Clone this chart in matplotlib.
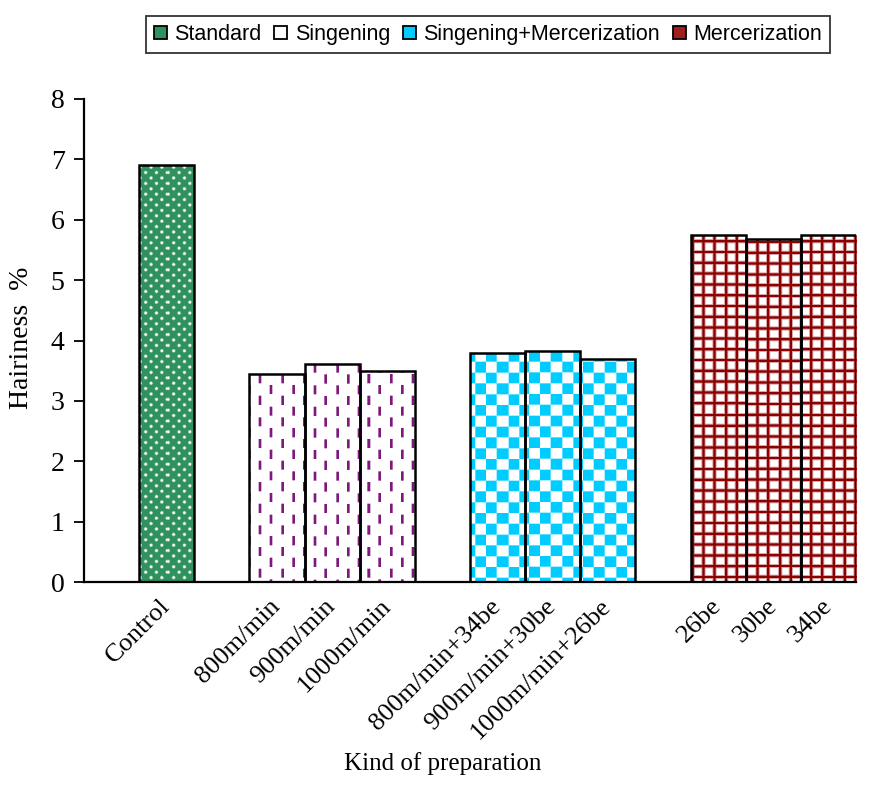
import numpy as np
import matplotlib
matplotlib.use("Agg")
import matplotlib.pyplot as plt
from matplotlib.patches import Patch

# ---------------- data ----------------
categories = ["Control", "800m/min", "900m/min", "1000m/min",
              "800m/min+34be", "900m/min+30be", "1000m/min+26be",
              "26be", "30be", "34be"]
groups = ["Standard", "Singening", "Singening", "Singening",
          "Singening+Mercerization", "Singening+Mercerization", "Singening+Mercerization",
          "Mercerization", "Mercerization", "Mercerization"]
values = [6.90, 3.44, 3.61, 3.49, 3.79, 3.82, 3.69, 5.75, 5.68, 5.75]
# slot positions (one empty slot between groups)
positions = [1.5, 3.5, 4.5, 5.5, 7.5, 8.5, 9.5, 11.5, 12.5, 13.5]
legend_groups = ["Standard", "Singening", "Singening+Mercerization", "Mercerization"]
yticks = [0, 1, 2, 3, 4, 5, 6, 7, 8]

# ---------------- styles ----------------
GREEN = np.array([46, 145, 94]) / 255.0
PURPLE = np.array([125, 25, 125]) / 255.0
CYAN = np.array([0, 204, 255]) / 255.0
DRED = np.array([139, 0, 0]) / 255.0
WHITE = np.array([1.0, 1.0, 1.0])
U = 2.7  # base pattern unit in pixels

base_colors = {"Standard": GREEN, "Singening": WHITE,
               "Singening+Mercerization": WHITE, "Mercerization": WHITE}


def pattern_alpha(kind, X, Y):
    """foreground coverage (0..1) at pixel coordinates X, Y"""
    if kind == "Standard":
        P = 4 * U
        xa = np.mod(X, P); ya = np.mod(Y, P)
        d1 = np.hypot(np.minimum(xa, P - xa), np.minimum(ya, P - ya))
        xb = np.mod(X + P / 2, P); yb = np.mod(Y + P / 2, P)
        d2 = np.hypot(np.minimum(xb, P - xb), np.minimum(yb, P - yb))
        d = np.minimum(d1, d2)
        return np.maximum((d < 1.2).astype(float), 0.45 * (d < 1.9))
    if kind == "Singening":
        P = 8 * U
        a = ((np.mod(X, P) < 1.0 * U) & (np.mod(Y, P) < 3.4 * U))
        b = ((np.mod(X + P / 2, P) < 1.0 * U) & (np.mod(Y + P / 2, P) < 3.4 * U))
        return (a | b).astype(float)
    if kind == "Singening+Mercerization":
        P = 4 * U
        c = (np.floor(X / P) + np.floor(Y / P)) % 2
        return c.astype(float)
    if kind == "Mercerization":
        P = 4 * U
        a = (np.mod(X, P) < 0.85 * U) | (np.mod(Y, P) < 0.85 * U)
        halo = (np.mod(X + 1.0, P) < 0.85 * U + 2.0) | (np.mod(Y + 1.0, P) < 0.85 * U + 2.0)
        return np.maximum(a.astype(float), 0.35 * halo.astype(float))
    return np.zeros_like(X)


fg_colors = {"Standard": WHITE, "Singening": PURPLE,
             "Singening+Mercerization": CYAN, "Mercerization": DRED}


def texture(kind, x0, x1, y0, y1):
    w = max(int(round(x1 - x0)), 1)
    h = max(int(round(y1 - y0)), 1)
    ss = 3
    offs = (np.arange(ss) + 0.5) / ss
    acc = np.zeros((h, w))
    cols = x0 + np.arange(w)
    rows = y1 - np.arange(h)  # top row first
    for ox in offs:
        for oy in offs:
            XX, YY = np.meshgrid(cols + ox, rows - oy)
            acc += pattern_alpha(kind, XX, YY)
    acc /= ss * ss
    bg = base_colors[kind]
    fg = fg_colors[kind]
    img = bg[None, None, :] * (1 - acc[..., None]) + fg[None, None, :] * acc[..., None]
    return img


# ---------------- figure ----------------
plt.rcParams["font.family"] = ["Liberation Serif", "DejaVu Serif"]
fig = plt.figure(figsize=(8.95, 7.94), dpi=100)
ax = fig.add_axes([84 / 895, (794 - 582) / 794, 772 / 895, 483 / 794])
ax.set_xlim(0, 14)
ax.set_ylim(0, 8)
ax.set_autoscale_on(False)

bars = ax.bar(positions, values, width=1.0,
              color=[base_colors[g] for g in groups],
              edgecolor="none", linewidth=0, zorder=2)

fig.canvas.draw()
for rect, g in zip(bars, groups):
    bx, by = rect.get_x(), rect.get_y()
    bw, bh = rect.get_width(), rect.get_height()
    (px0, py0) = ax.transData.transform((bx, by))
    (px1, py1) = ax.transData.transform((bx + bw, by + bh))
    img = texture(g, px0, px1, py0, py1)
    im = ax.imshow(img, extent=(bx, bx + bw, by, by + bh), aspect="auto",
                   interpolation="nearest", zorder=2.5, origin="upper")
    im.set_clip_path(rect)

ax.bar(positions, values, width=1.0, fill=False, edgecolor="black",
       linewidth=1.8, zorder=3)

# axes styling
for s in ["top", "right"]:
    ax.spines[s].set_visible(False)
for s in ["left", "bottom"]:
    ax.spines[s].set_linewidth(1.6)
    ax.spines[s].set_zorder(4)

ax.set_yticks(yticks)
ax.set_yticklabels([str(v) for v in yticks], fontsize=20)
ax.tick_params(axis="y", direction="out", length=7, width=1.3, pad=7)
ax.set_xticks(positions)
ax.set_xticklabels(categories, rotation=45, ha="right", va="center",
                   rotation_mode="anchor", fontsize=19)
ax.tick_params(axis="x", length=0, pad=15)

ax.set_xlabel("Kind of preparation", fontsize=18)
ax.xaxis.set_label_coords((443 - 84) / 772, (794 - 764 - 212) / 483)
ax.xaxis.label.set_va("center")
ax.set_ylabel("Hairiness  %", fontsize=20)
ax.yaxis.set_label_coords((22 - 84) / 772, (794 - 338 - 212) / 483)
ax.yaxis.label.set_va("center")

# legend
leg_face = {"Standard": GREEN, "Singening": WHITE,
            "Singening+Mercerization": CYAN, "Mercerization": np.array([160, 30, 30]) / 255.0}
handles = []
for g in legend_groups:
    handles.append(Patch(facecolor=leg_face[g], edgecolor="black", linewidth=1.3))
leg = fig.legend(handles, legend_groups, loc="center", ncol=4,
                 bbox_to_anchor=((143 + 833) / 2 / 895, 1 - 34.5 / 794),
                 prop={"family": "Liberation Sans", "size": 15.5},
                 frameon=True, fancybox=False, edgecolor="black",
                 handlelength=0.6, handleheight=0.6, handletextpad=0.35,
                 columnspacing=0.6, borderpad=0.35, borderaxespad=0)
leg.get_frame().set_linewidth(1.3)

fig.savefig("out.png", dpi=100)
